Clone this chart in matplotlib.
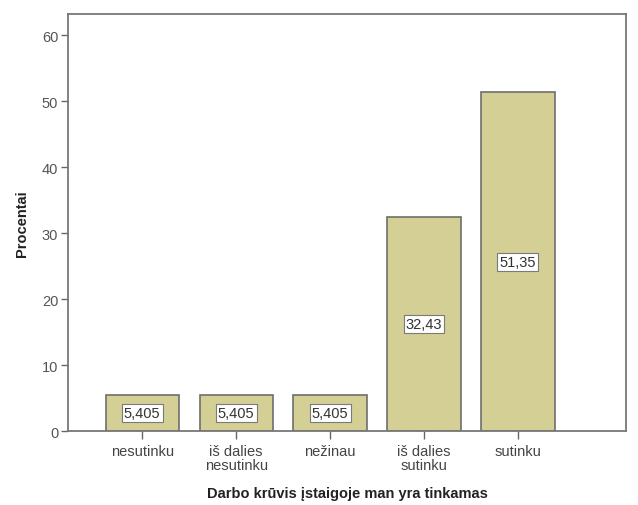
import matplotlib
matplotlib.use("Agg")
import matplotlib.pyplot as plt

kategorijos = ["nesutinku", "iš dalies\nnesutinku", "nežinau", "iš dalies\nsutinku", "sutinku"]
procentai = [5.405, 5.405, 5.405, 32.43, 51.35]
etiketes = ["5,405", "5,405", "5,405", "32,43", "51,35"]

plt.rcParams['font.family'] = ['Liberation Sans', 'DejaVu Sans']

fig = plt.figure(figsize=(6.38, 5.06), dpi=100)
ax = fig.add_axes([0.1066, 0.146, 0.8745, 0.824])

x = range(len(kategorijos))
ax.bar(x, procentai, width=0.78, color='#d4cf94', edgecolor='#6e6e6e', linewidth=1.2)

# reikšmės baltuose langeliuose stulpelio viduryje
for i, (v, t) in enumerate(zip(procentai, etiketes)):
    ax.text(i, v / 2, t, ha='center', va='center', fontsize=10.5, color='#333333',
            bbox=dict(boxstyle='square,pad=0.15', facecolor='white', edgecolor='#7a7a7a', linewidth=0.8))

ax.set_xlim(-0.79, 5.15)
ax.set_ylim(0, 63.2)
ax.set_yticks([0, 10, 20, 30, 40, 50, 60])
ax.set_xticks(list(x))
ax.set_xticklabels(kategorijos, fontsize=10.5, color='#444444', linespacing=1.0)
ax.tick_params(axis='y', labelsize=10.5, labelcolor='#555555', length=5, color='#666666', width=1, pad=2)
ax.tick_params(axis='x', length=6, color='#666666', width=1, pad=3)

for s in ax.spines.values():
    s.set_color('#777777')
    s.set_linewidth(1.3)

ax.set_ylabel("Procentai", fontsize=10.5, fontweight='bold', color='#222222', labelpad=9)
ax.set_xlabel("Darbo krūvis įstaigoje man yra tinkamas", fontsize=10.5, fontweight='bold',
              color='#222222', labelpad=10)

fig.savefig("out.png", dpi=100)
